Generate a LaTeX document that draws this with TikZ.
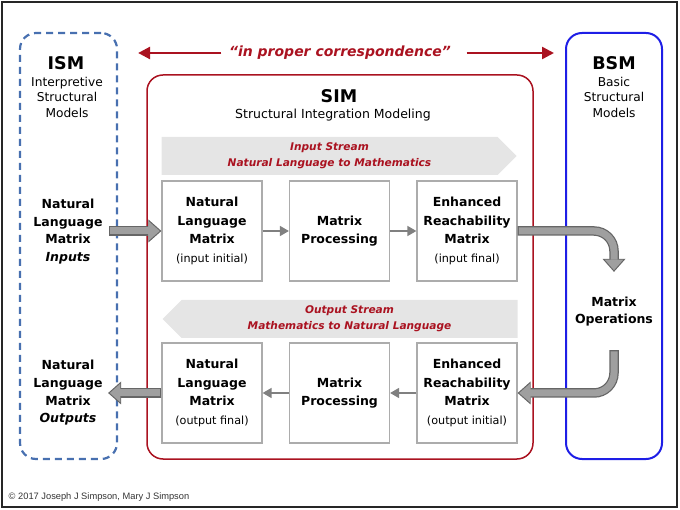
\documentclass[tikz,border=0pt]{standalone}
\usepackage{fontspec}
\setmainfont{DejaVu Sans}
\newfontfamily\creditfont{Liberation Sans}
\usepackage{tikz}
\usetikzlibrary{positioning,shapes.symbols,arrows.meta}

\definecolor{simred}{RGB}{170,18,32}
\definecolor{ismblue}{RGB}{72,112,176}
\definecolor{bsmblue}{RGB}{30,30,230}

\begin{document}
\begin{tikzpicture}[x=1pt,y=-1pt,thick,node distance=127.5pt,
    base/.style={draw=gray!65, line width=1.2pt, fill=white, minimum width=100pt, minimum height=100pt,
        inner sep=1pt, align=center, font=\bfseries\fontsize{12.5}{18.5}\selectfont},
    modelbox/.style={minimum width=97pt, minimum height=426pt, rounded corners=16pt},
    ttl/.style={font=\bfseries\fontsize{17.5}{20}\selectfont},
    capt/.style={align=center, font=\fontsize{12.2}{15.5}\selectfont},
    side/.style={align=center, font=\bfseries\fontsize{12.5}{17.7}\selectfont},
    banner/.style={signal, signal pointer angle=90, fill=gray!20, minimum width=355pt, minimum height=38pt,
        align=center, text=simred, font=\bfseries\itshape\fontsize{10.6}{16}\selectfont},
    small/.style={gray, line width=1.5pt, -{Triangle[length=9pt,width=10pt]}},
    redarr/.style={draw=simred, line width=2.5pt, -{Triangle[length=12pt,width=12pt]}},
    blk/.style={preaction={draw=black!60, line width=9.5pt, shorten >=0pt, shorten <=0pt,
            -{Triangle[length=13pt,width=23pt,line width=0pt]}},
        draw=gray!75, line width=7pt, shorten >=1.7pt, shorten <=1.2pt,
        -{Triangle[length=10.5pt,width=18.5pt,line width=0pt]}}]

    \useasboundingbox (0,0) rectangle (680,510);
    \draw[line width=1.5pt, black!85] (2,2) rectangle (677,507);

    % the three model frames
    \node[modelbox, draw=ismblue, line width=2.2pt, dash pattern=on 7pt off 5pt] (ism) at (68.5,246) {};
    \node[modelbox, draw=simred, line width=1.5pt, minimum width=386pt, minimum height=384pt] (sim) at (340,267) {};
    \node[modelbox, draw=bsmblue, line width=2pt, minimum width=96pt] (bsm) at (614,246) {};

    \node[ttl] (ismt) at (66,63) {ISM};
    \node[capt] (ismc) at (67,97) {Interpretive\\Structural\\Models};
    \node[ttl] (bsmt) at (614,63) {BSM};
    \node[capt] (bsmc) at (614,97) {Basic\\Structural\\Models};
    \node[ttl] (simt) at (339,96) {SIM};
    \node[capt, font=\fontsize{12.5}{15}\selectfont] (simc) at (333,115) {Structural Integration Modeling};

    \node[text=simred, font=\bfseries\itshape\fontsize{14}{16}\selectfont] (corr) at (340,53)
    {“in proper correspondence”};
    \draw[redarr, shorten <=4pt, shorten >=20pt] (corr.west) -- (corr.west -| ism.east);
    \draw[redarr, shorten <=12pt, shorten >=11pt] (corr.east) -- (corr.east -| bsm.west);

    % streams
    \node[banner, signal to=east] (in) at (329.5,156) {Input Stream\\Natural Language to Mathematics};
    \node[banner, signal to=west] (out) at (349.5,319) {Output Stream\\Mathematics to Natural Language};

    % matrix boxes
    \node[base] (1) at (212,231)
    {
        Natural\\Language\\Matrix\\
        \mdseries\fontsize{11.2}{18.5}\selectfont (input initial)
    };
    \node[base, right of=1] (2)
    {
        Matrix\\Processing
    };
    \node[base, right of=2] (3)
    {
        Enhanced\\Reachability\\Matrix\\
        \mdseries\fontsize{11.2}{18.5}\selectfont (input final)
    };
    \node[base, below of=3, node distance=162pt] (4)
    {
        Enhanced\\Reachability\\Matrix\\
        \mdseries\fontsize{11.2}{18.5}\selectfont (output initial)
    };
    \node[base, left of=4] (5)
    {
        Matrix\\Processing
    };
    \node[base, left of=5] (6)
    {
        Natural\\Language\\Matrix\\
        \mdseries\fontsize{11.2}{18.5}\selectfont (output final)
    };

    \node[side] (inputs) at (68,231.5) {Natural\\Language\\Matrix\\\itshape Inputs};
    \node[side] (outputs) at (68,393) {Natural\\Language\\Matrix\\\itshape Outputs};
    \node[side] (ops) at (614,311.5) {Matrix\\Operations};

    \path[small]
    {
        (1) edge (2)
        (2) edge (3)
        (4) edge (5)
        (5) edge (6)
    };

    \draw[blk] ([xshift=-9pt]1.west -| ism.east) -- (1.west);
    \draw[blk] (6.west) -- ([xshift=-10pt]6.west -| ism.east);
    \draw[blk, rounded corners=20pt] (3.east) -| ([yshift=21pt]ops.north);
    \draw[blk, rounded corners=20pt] ([yshift=-20pt]ops.south) |- (4.east);

    \node[anchor=west, text=black!80, font=\creditfont\fontsize{9.3}{10}\selectfont] (credit) at (5,497)
    {© 2017 Joseph J Simpson, Mary J Simpson};
\end{tikzpicture}
\end{document}
